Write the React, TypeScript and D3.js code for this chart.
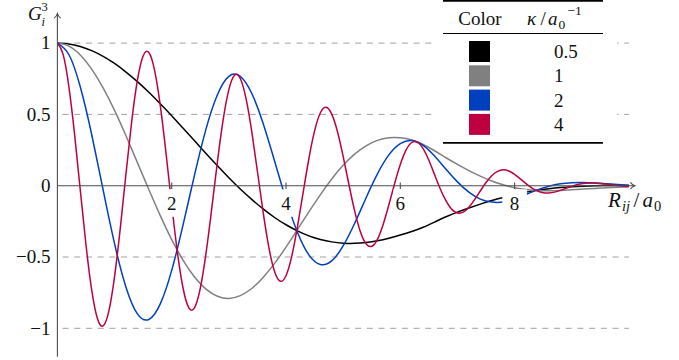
import React from "react";
import * as d3 from "d3";

// Chart canvas
const WIDTH = 679;
const HEIGHT = 360;

// Sample positions along R_ij / a_0
const xCoarse = [
  0, 0.2, 0.4, 0.6, 0.8, 1, 1.2, 1.4, 1.6, 1.8, 2, 2.2, 2.4, 2.6, 2.8, 3, 3.2, 3.4, 3.6, 3.8,
  4, 4.2, 4.4, 4.6, 4.8, 5, 5.2, 5.4, 5.6, 5.8, 6, 6.2, 6.4, 6.6, 6.8, 7, 7.2, 7.4, 7.6, 7.8,
  8, 8.2, 8.4, 8.6, 8.8, 9, 9.2, 9.4, 9.6, 9.8, 10,
];
const xFine = [
  0, 0.1, 0.2, 0.3, 0.4, 0.5, 0.6, 0.7, 0.8, 0.9, 1, 1.1, 1.2, 1.3, 1.4, 1.5, 1.6, 1.7, 1.8, 1.9,
  2, 2.1, 2.2, 2.3, 2.4, 2.5, 2.6, 2.7, 2.8, 2.9, 3, 3.1, 3.2, 3.3, 3.4, 3.5, 3.6, 3.7, 3.8, 3.9,
  4, 4.1, 4.2, 4.3, 4.4, 4.5, 4.6, 4.7, 4.8, 4.9, 5, 5.1, 5.2, 5.3, 5.4, 5.5, 5.6, 5.7, 5.8, 5.9,
  6, 6.1, 6.2, 6.3, 6.4, 6.5, 6.6, 6.7, 6.8, 6.9, 7, 7.1, 7.2, 7.3, 7.4, 7.5, 7.6, 7.7, 7.8, 7.9,
  8, 8.1, 8.2, 8.3, 8.4, 8.5, 8.6, 8.7, 8.8, 8.9, 9, 9.1, 9.2, 9.3, 9.4, 9.5, 9.6, 9.7, 9.8, 9.9, 10,
];

// G_i^3 for kappa = 0.5 (on xCoarse)
const gKappa05 = [
  1.0, 0.994, 0.976, 0.947, 0.907, 0.857, 0.797, 0.73, 0.655, 0.575, 0.491,
  0.403, 0.315, 0.226, 0.14, 0.056, -0.023, -0.096, -0.163, -0.223, -0.274,
  -0.317, -0.352, -0.377, -0.394, -0.403, -0.404, -0.398, -0.386, -0.368, -0.346,
  -0.321, -0.291, -0.255, -0.218, -0.185, -0.156, -0.129, -0.104, -0.083, -0.063,
  -0.045, -0.031, -0.021, -0.013, -0.007, -0.003, 0.0, 0.001, 0.002, 0.002,
];
// kappa = 1 (on xCoarse)
const gKappa1 = [
  1.0, 0.979, 0.917, 0.818, 0.686, 0.528, 0.35, 0.162, -0.027, -0.21, -0.378,
  -0.523, -0.64, -0.725, -0.775, -0.791, -0.771, -0.721, -0.643, -0.545, -0.431,
  -0.308, -0.184, -0.064, 0.047, 0.143, 0.221, 0.28, 0.318, 0.336, 0.336,
  0.32, 0.289, 0.245, 0.196, 0.149, 0.106, 0.067, 0.033, 0.006, -0.014,
  -0.027, -0.033, -0.035, -0.033, -0.029, -0.024, -0.019, -0.014, -0.01, -0.007,
];
// kappa = 2 (on xCoarse)
const gKappa2 = [
  1.0, 0.92, 0.694, 0.359, -0.029, -0.406, -0.712, -0.899, -0.938, -0.829, -0.594,
  -0.273, 0.076, 0.397, 0.638, 0.767, 0.767, 0.648, 0.436, 0.173, -0.096,
  -0.326, -0.485, -0.552, -0.527, -0.422, -0.265, -0.086, 0.083, 0.216, 0.295,
  0.317, 0.283, 0.208, 0.115, 0.027, -0.045, -0.094, -0.115, -0.114, -0.092,
  -0.061, -0.029, -0.004, 0.013, 0.021, 0.022, 0.019, 0.014, 0.008, 0.003,
];
// kappa = 4 (on xFine)
const gKappa4 = [
  1.0, 0.921, 0.696, 0.362, -0.029, -0.414, -0.731, -0.931, -0.983, -0.88,
  -0.638, -0.299, 0.085, 0.45, 0.74, 0.91, 0.934, 0.811, 0.563, 0.23,
  -0.132, -0.467, -0.721, -0.857, -0.855, -0.72, -0.475, -0.162, 0.167, 0.461,
  0.674, 0.775, 0.752, 0.612, 0.382, 0.1, -0.186, -0.433, -0.602, -0.67,
  -0.631, -0.496, -0.289, -0.048, 0.189, 0.384, 0.51, 0.55, 0.502, 0.38,
  0.205, 0.01, -0.175, -0.321, -0.407, -0.425, -0.376, -0.272, -0.134, 0.014,
  0.148, 0.249, 0.303, 0.305, 0.26, 0.178, 0.077, -0.023, -0.107, -0.166,
  -0.191, -0.185, -0.151, -0.098, -0.037, 0.022, 0.07, 0.1, 0.112, 0.103,
  0.08, 0.048, 0.015, -0.015, -0.037, -0.049, -0.051, -0.045, -0.033, -0.018,
  -0.004, 0.008, 0.015, 0.019, 0.019, 0.016, 0.011, 0.006, 0.001, -0.003, -0.005,
];

const kappaLabels = ["0.5", "1", "2", "4"];
const seriesColors = ["#000000", "#808080", "#0040bf", "#bf0040"];

const xTicks = [2, 4, 6, 8];
const yTicks = [-1, -0.5, 0, 0.5, 1];
const gridLevels = [-1, -0.5, 0.5, 1];

const FONT = "'Liberation Serif', serif";
const AXIS = "#4d4d4d";
const INK = "#111";

const x = d3.scaleLinear().domain([0, 10]).range([57.4, 628.9]);
const y = d3.scaleLinear().domain([-1, 1]).range([328.3, 43.1]);

const fmtY = (v: number) => (v < 0 ? "\u2212" + Math.abs(v) : String(v));

// half-width of the white backing behind each x tick label
const labelHalfWidth = (t: number) => (t === 8 ? 12.3 : 6.8);

type TProps = {
  x: number;
  y: number;
  size?: number;
  italic?: boolean;
  anchor?: "start" | "middle" | "end";
  children: React.ReactNode;
};

function T({ x, y, size = 19, italic = false, anchor = "start", children }: TProps) {
  return (
    <text
      x={x}
      y={y}
      fontSize={size}
      fontFamily={FONT}
      fontStyle={italic ? "italic" : "normal"}
      textAnchor={anchor}
      fill={INK}
      style={{ fontFamily: FONT }}
    >
      {children}
    </text>
  );
}

export default function App() {
  const series = [
    { xs: xCoarse, ys: gKappa05, color: seriesColors[0] },
    { xs: xCoarse, ys: gKappa1, color: seriesColors[1] },
    { xs: xCoarse, ys: gKappa2, color: seriesColors[2] },
    { xs: xFine, ys: gKappa4, color: seriesColors[3] },
  ];
  const line = d3
    .line<[number, number]>()
    .x((d) => x(d[0]))
    .y((d) => y(d[1]))
    .curve(d3.curveNatural);

  const y0 = y(0);
  const x0 = x(0);
  const xTip = x(10) + 6;
  const yTip = y(1.2) - 1;

  return (
    <svg
      width={WIDTH}
      height={HEIGHT}
      style={{ position: "absolute", left: 0, top: 0, background: "#fff" }}
    >
      {/* dashed horizontal grid */}
      {gridLevels.map((v) => (
        <line
          key={v}
          x1={x(0)}
          x2={x(10)}
          y1={y(v)}
          y2={y(v)}
          stroke="#a0a0a0"
          strokeWidth={1}
          strokeDasharray="6 5.7"
          strokeDashoffset={6.5}
        />
      ))}

      {/* curves */}
      {series.map((s, i) => (
        <path
          key={i}
          d={line(s.xs.map((xv, j) => [xv, s.ys[j]] as [number, number])) || ""}
          fill="none"
          stroke={s.color}
          strokeWidth={1.5}
        />
      ))}

      {/* axes with arrow tips */}
      <line x1={x0} x2={xTip} y1={y0} y2={y0} stroke={AXIS} strokeWidth={1.1} />
      <path
        d={`M${xTip - 4.5},${y0 - 3.3} C${xTip - 3},${y0 - 1.2} ${xTip - 1},${y0 - 0.3} ${xTip},${y0} C${xTip - 1},${y0 + 0.3} ${xTip - 3},${y0 + 1.2} ${xTip - 4.5},${y0 + 3.3}`}
        fill="none"
        stroke={AXIS}
        strokeWidth={1.1}
      />
      <line x1={x0} x2={x0} y1={y(-1.2)} y2={yTip} stroke={AXIS} strokeWidth={1.1} />
      <path
        d={`M${x0 - 3.3},${yTip + 4.5} C${x0 - 1.2},${yTip + 3} ${x0 - 0.3},${yTip + 1} ${x0},${yTip} C${x0 + 0.3},${yTip + 1} ${x0 + 1.2},${yTip + 3} ${x0 + 3.3},${yTip + 4.5}`}
        fill="none"
        stroke={AXIS}
        strokeWidth={1.1}
      />

      {/* x ticks and labels on white backing */}
      {xTicks.map((t) => (
        <g key={t}>
          <line x1={x(t)} x2={x(t)} y1={y0 - 3.3} y2={y0 + 3.3} stroke={AXIS} strokeWidth={1.1} />
          <rect
            x={x(t) - labelHalfWidth(t)}
            y={y0 + 3.6}
            width={labelHalfWidth(t) * 2}
            height={27.5}
            fill="#fff"
          />
          <T x={x(t)} y={y0 + 24.5} anchor="middle">
            {t}
          </T>
        </g>
      ))}

      {/* y tick labels */}
      {yTicks.map((t) => (
        <T key={t} x={50.5} y={y(t) + 6.3} anchor="end">
          {fmtY(t)}
        </T>
      ))}

      {/* axis labels */}
      <T x={28} y={19.5} italic>G</T>
      <T x={41.5} y={11} size={12.5}>3</T>
      <T x={41.5} y={25.5} size={12.5} italic>i</T>

      <T x={608} y={207} size={21} italic>R</T>
      <T x={622} y={211} size={14.5} italic>ij</T>
      <T x={633.5} y={207} size={21}>/</T>
      <T x={642.5} y={207} size={21} italic>a</T>
      <T x={654} y={211} size={14.5}>0</T>

      {/* legend table */}
      <g>
        <rect x={437} y={-2} width={180} height={150} fill="#fff" />
        <line x1={443} x2={603} y1={0.9} y2={0.9} stroke="#000" strokeWidth={1.7} />
        <line x1={443} x2={603} y1={33.5} y2={33.5} stroke="#000" strokeWidth={1} />
        <line x1={443} x2={603} y1={142.8} y2={142.8} stroke="#000" strokeWidth={1.7} />
        <T x={480} y={25} anchor="middle">Color</T>
        <T x={527} y={25} italic>κ</T>
        <T x={540.5} y={25}>/</T>
        <T x={548} y={25} italic>a</T>
        <T x={558.5} y={29} size={13.5}>0</T>
        <T x={567.5} y={15} size={13.5}>−1</T>
        {kappaLabels.map((k, i) => {
          const cy = 51.5 + 24.3 * i;
          const [intPart, frac] = k.split(".");
          return (
            <g key={k}>
              <rect x={469} y={cy - 10.5} width={21} height={21} fill={seriesColors[i]} />
              <T x={563.5} y={cy + 6.6} anchor="end">
                {intPart}
              </T>
              {frac !== undefined && (
                <T x={563.5} y={cy + 6.6}>
                  {"." + frac}
                </T>
              )}
            </g>
          );
        })}
      </g>
    </svg>
  );
}
